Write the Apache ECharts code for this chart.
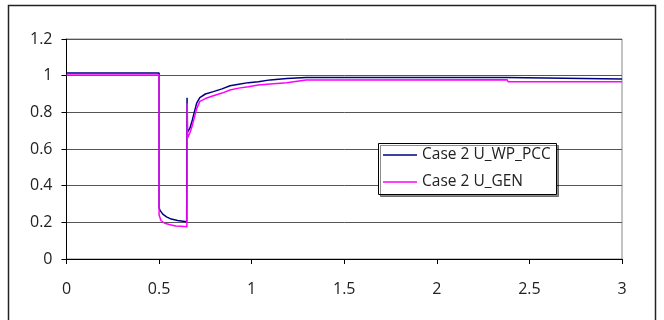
<!DOCTYPE html>
<html>
<head>
<meta charset="utf-8">
<script src="https://cdn.jsdelivr.net/npm/echarts@6/dist/echarts.min.js"></script>
<style>
  html, body { margin: 0; padding: 0; background: #fff; }
  #chart { width: 664px; height: 320px; }
</style>
</head>
<body>
<div id="chart"></div>
<script>
// Case 2 voltages (p.u.) vs time (s)
var pccName = 'Case 2 U_WP_PCC';
var genName = 'Case 2 U_GEN';

var pccTime = [0, 0.5, 0.5, 0.505, 0.52, 0.54, 0.56, 0.6, 0.649, 0.651, 0.653, 0.66, 0.667, 0.68, 0.69, 0.703, 0.72, 0.75, 0.793, 0.84, 0.883, 0.93, 0.982, 1.036, 1.1, 1.19, 1.293, 2.377, 2.38, 3.0];
var pccVal  = [1.015, 1.015, 0.28, 0.265, 0.245, 0.23, 0.22, 0.21, 0.203, 0.88, 0.69, 0.70, 0.715, 0.76, 0.80, 0.85, 0.88, 0.90, 0.913, 0.928, 0.945, 0.953, 0.962, 0.967, 0.977, 0.984, 0.99, 0.99, 0.982, 0.982];

var genTime = [0, 0.5, 0.5, 0.51, 0.53, 0.56, 0.59, 0.62, 0.65, 0.652, 0.654, 0.667, 0.68, 0.69, 0.703, 0.72, 0.75, 0.793, 0.84, 0.883, 0.93, 0.982, 1.036, 1.1, 1.19, 1.293, 2.38, 2.385, 3.0];
var genVal  = [1.003, 1.003, 0.24, 0.21, 0.195, 0.187, 0.18, 0.178, 0.176, 0.85, 0.66, 0.69, 0.73, 0.77, 0.82, 0.86, 0.875, 0.89, 0.905, 0.922, 0.932, 0.94, 0.949, 0.955, 0.962, 0.977, 0.978, 0.967, 0.967];

function pairs(t, v) {
    var out = [];
    for (var i = 0; i < t.length; i++) out.push([t[i], v[i]]);
    return out;
}

var font = '"Open Sans", sans-serif';
var dom = document.getElementById('chart');
var myChart = echarts.init(dom);

var option = {
    animation: false,
    backgroundColor: '#fff',
    grid: {
        left: 66.5, right: 42, top: 39, bottom: 61,
        show: true, borderColor: '#888', borderWidth: 1, backgroundColor: 'transparent'
    },
    xAxis: {
        type: 'value', min: 0, max: 3, interval: 0.5,
        axisLine: { show: true, onZero: false, lineStyle: { color: '#000', width: 1 } },
        axisTick: { show: true, length: 5, lineStyle: { color: '#000' } },
        axisLabel: { margin: 22, color: '#222', fontFamily: font, fontSize: 16 },
        splitLine: { show: false }
    },
    yAxis: {
        type: 'value', min: 0, max: 1.2, interval: 0.2,
        axisLine: { show: true, lineStyle: { color: '#000', width: 1 } },
        axisTick: { show: true, length: 5, lineStyle: { color: '#000' } },
        axisLabel: { margin: 14, color: '#222', fontFamily: font, fontSize: 16 },
        splitLine: { show: true, lineStyle: { color: '#555', width: 1 } }
    },
    legend: {
        orient: 'vertical',
        left: 378, top: 142,
        z: 20,
        icon: 'rect',
        itemWidth: 34, itemHeight: 1.5,
        itemGap: 11,
        textStyle: { fontFamily: font, fontSize: 15.5, color: '#222', lineHeight: 16 },
        data: [pccName, genName]
    },
    graphic: [
        {
            type: 'rect', z: 10,
            shape: { x: 378.5, y: 143.5, width: 178, height: 51 },
            style: { fill: '#fff', stroke: '#000', lineWidth: 1,
                     shadowColor: 'rgba(0,0,0,0.45)', shadowOffsetX: 2, shadowOffsetY: 2, shadowBlur: 0 }
        },
        {
            type: 'rect', z: 30,
            shape: { x: 8.5, y: 5.5, width: 647, height: 330 },
            style: { fill: 'none', stroke: '#222', lineWidth: 1.5 }
        }
    ],
    series: [
        {
            name: pccName, type: 'line', symbol: 'none',
            color: '#000080',
            lineStyle: { color: '#000080', width: 1.5 },
            data: pairs(pccTime, pccVal)
        },
        {
            name: genName, type: 'line', symbol: 'none',
            color: '#ff00ff',
            lineStyle: { color: '#ff00ff', width: 1.5 },
            data: pairs(genTime, genVal)
        }
    ]
};
myChart.setOption(option, true);
</script>
</body>
</html>
